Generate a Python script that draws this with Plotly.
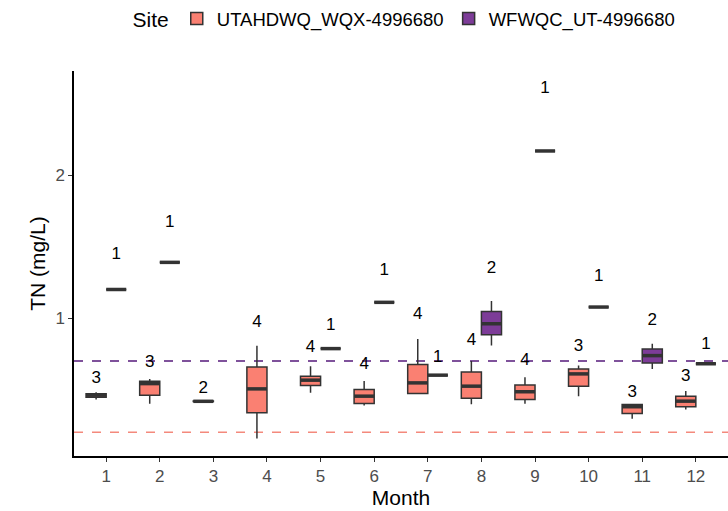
import plotly.graph_objects as go

# ---- data ----
months_a = [1, 2, 3, 4, 5, 6, 7, 8, 9, 10, 11, 12]
lower_a  = [0.43, 0.40, 0.413, 0.156, 0.477, 0.388, 0.471, 0.397, 0.400, 0.453, 0.295, 0.360]
q1_a     = [0.445, 0.46, 0.415, 0.337, 0.527, 0.402, 0.471, 0.439, 0.430, 0.523, 0.332, 0.379]
med_a    = [0.46, 0.541, 0.417, 0.504, 0.565, 0.453, 0.546, 0.523, 0.484, 0.609, 0.379, 0.418]
q3_a     = [0.47, 0.558, 0.419, 0.658, 0.593, 0.500, 0.674, 0.623, 0.532, 0.644, 0.395, 0.453]
upper_a  = [0.48, 0.573, 0.420, 0.806, 0.662, 0.560, 0.853, 0.700, 0.585, 0.667, 0.400, 0.490]
n_a      = [3, 3, 2, 4, 4, 4, 4, 4, 4, 3, 3, 3]

months_b = [1, 2, 5, 6, 7, 8, 9, 10, 11, 12]
lower_b  = [1.20, 1.39, 0.786, 1.11, 0.60, 0.807, 2.17, 1.077, 0.644, 0.68]
q1_b     = [1.20, 1.39, 0.786, 1.11, 0.60, 0.883, 2.17, 1.077, 0.686, 0.68]
med_b    = [1.20, 1.39, 0.786, 1.11, 0.60, 0.960, 2.17, 1.077, 0.737, 0.68]
q3_b     = [1.20, 1.39, 0.786, 1.11, 0.60, 1.046, 2.17, 1.077, 0.784, 0.68]
upper_b  = [1.20, 1.39, 0.786, 1.11, 0.60, 1.120, 2.17, 1.077, 0.820, 0.68]
n_b      = [1, 1, 1, 1, 1, 2, 1, 1, 2, 1]

site_a, site_b = "UTAHDWQ_WQX-4996680", "WFWQC_UT-4996680"
ref_a, ref_b = 0.2, 0.7
month_ticks = list(range(1, 13))

col_a, col_b = "#FA8072", "#7D3C98"
line_a, line_b = "#F4897C", "#551A7B"
dark = "#333333"
DODGE = 0.1875

FONT = "Liberation Sans, Arial, sans-serif"

fig = go.Figure()

def add_series(name, months, lo, q1, md, q3, up, n, fill, off):
    fig.add_trace(go.Box(
        name=name, x=months, q1=q1, median=md, q3=q3,
        lowerfence=lo, upperfence=up,
        fillcolor=fill, line=dict(color=dark, width=1.5),
        whiskerwidth=0, offsetgroup=name, legendgroup=name,
        boxpoints=False, hoverinfo="skip",
    ))
    xs = [m + off for m in months]
    fig.add_trace(go.Scatter(
        x=xs, y=md, mode="markers", showlegend=False, hoverinfo="skip",
        marker=dict(symbol="line-ew", size=14.3,
                    line=dict(color=dark, width=3.5)),
    ))
    fig.add_trace(go.Scatter(
        x=xs, y=[u * 1.2 for u in up], mode="text", showlegend=False,
        text=[str(k) for k in n], textposition="middle center",
        textfont=dict(family=FONT, size=17, color="black"), hoverinfo="skip",
    ))

add_series(site_a, months_a, lower_a, q1_a, med_a, q3_a, upper_a, n_a, col_a, -DODGE)
add_series(site_b, months_b, lower_b, q1_b, med_b, q3_b, upper_b, n_b, col_b, DODGE)

fig.add_hline(y=ref_b, line=dict(color=line_b, width=1.5, dash="dash"), layer="below")
fig.add_hline(y=ref_a, line=dict(color=line_a, width=1.5, dash="dash"), layer="below")

fig.update_layout(
    width=728, height=511,
    margin=dict(l=74, r=0, t=70, b=55),
    plot_bgcolor="white", paper_bgcolor="white",
    boxmode="group", boxgap=0.25, boxgroupgap=0,
    font=dict(family=FONT, size=17, color="black"),
    legend=dict(orientation="h", x=0.507, xanchor="center", y=1.135, yanchor="middle",
                title=dict(text="Site", side="left", font=dict(size=21)),
                font=dict(size=18.5), itemwidth=30, traceorder="normal"),
    xaxis=dict(range=[0.4, 12.6], tickmode="array", tickvals=month_ticks,
               ticktext=[str(m) for m in month_ticks],
               showgrid=False, zeroline=False, showline=True, linecolor="black", linewidth=1.5,
               ticks="outside", ticklen=4, tickcolor="#333333", tickwidth=1.2,
               tickfont=dict(size=17, color="#4D4D4D"),
               title=dict(text="Month", font=dict(size=21), standoff=3)),
    yaxis=dict(range=[0.034, 2.73], tickvals=[1, 2], ticktext=["1", "2"],
               showgrid=False, zeroline=False, showline=True, linecolor="black", linewidth=1.5,
               ticks="outside", ticklen=4, tickcolor="#333333", tickwidth=1.2,
               tickfont=dict(size=17, color="#4D4D4D"),
               title=dict(text="TN (mg/L)", font=dict(size=21), standoff=4)),
)

fig.write_html("out.html")
